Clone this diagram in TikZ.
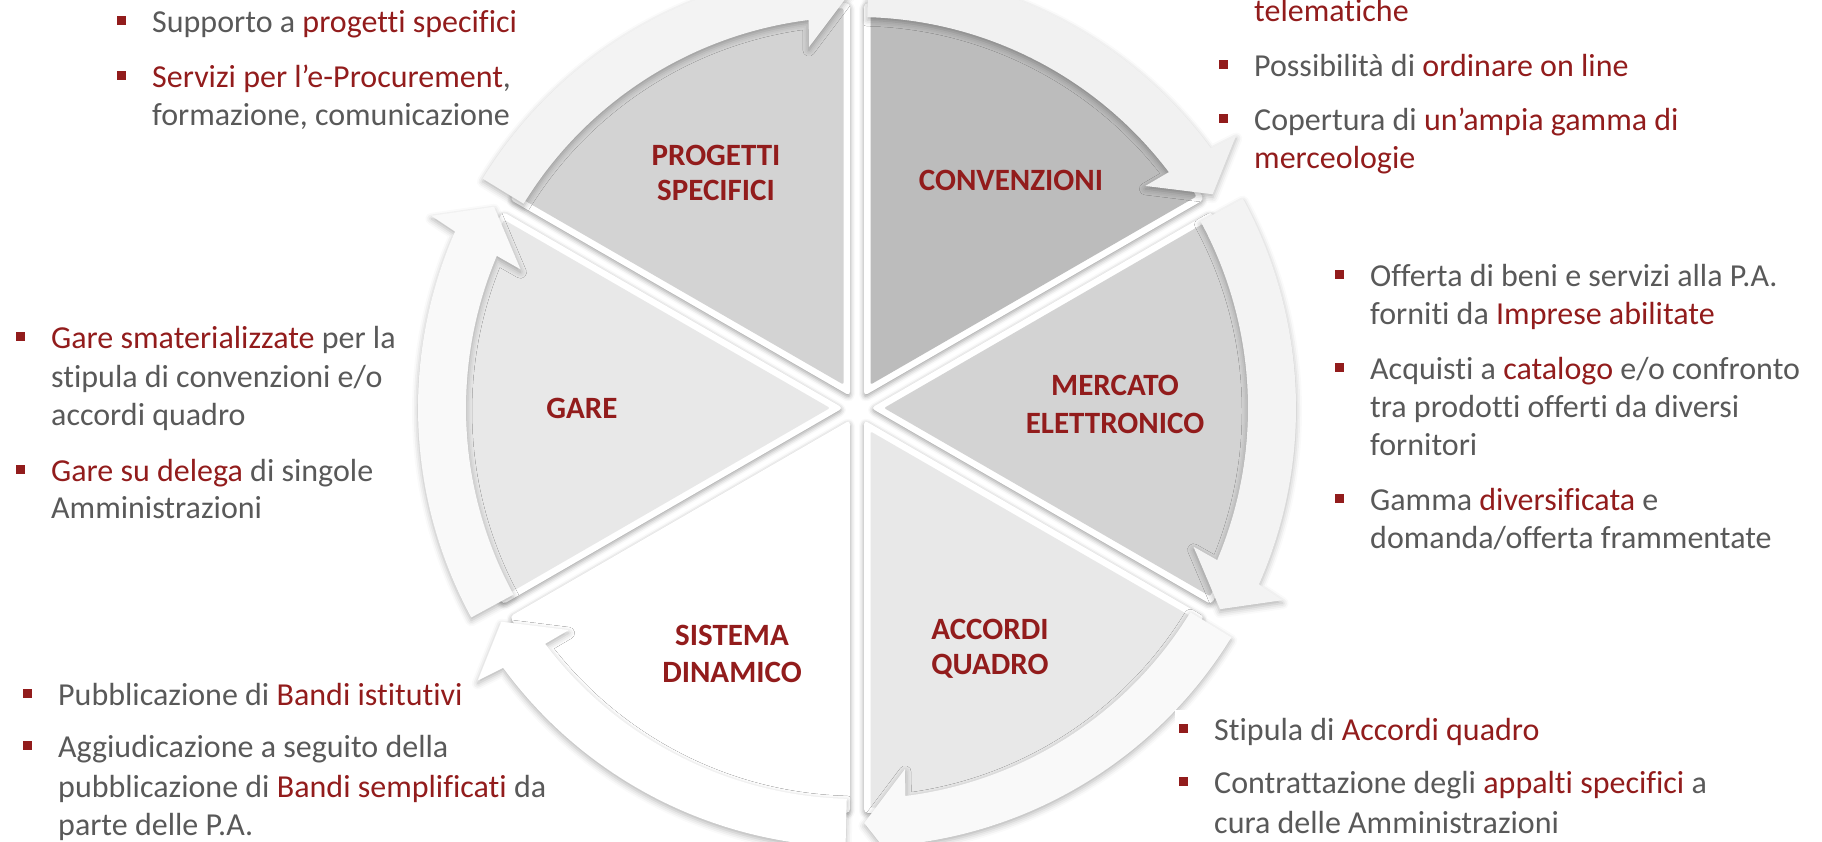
\documentclass[tikz,border=0pt]{standalone}
\usepackage{fontspec}
\setmainfont{Carlito}[Ligatures=NoCommon]
\usetikzlibrary{shadows.blur}
\definecolor{tred}{HTML}{921C1C}
\definecolor{tgray}{HTML}{595959}
\definecolor{secA}{HTML}{BCBCBC}
\definecolor{secB}{HTML}{D3D3D3}
\definecolor{secC}{HTML}{E8E8E8}
\definecolor{arA}{HTML}{F3F3F3}
\definecolor{arB}{HTML}{F1F1F1}
\definecolor{arC}{HTML}{F9F9F9}
\newcommand{\bul}{\llap{\textcolor{tred}{\rule[7pt]{9pt}{9pt}}\hspace{26pt}}}
\newcommand{\rd}[1]{\textcolor{tred}{#1}}
\begin{document}
\begin{tikzpicture}[x=1pt,y=1pt,
  body/.style={anchor=base west, inner sep=0pt, text=tgray, font=\fontsize{32}{38}\selectfont},
  ttl/.style={anchor=base, inner sep=0pt, text=tred, font=\fontsize{31}{36}\selectfont\bfseries},
  wedgeout/.style={fill=white, rounded corners=4pt, blur shadow={shadow xshift=0pt, shadow yshift=-2pt, shadow blur radius=5pt, shadow opacity=40}},
  arrowsh/.style={blur shadow={shadow xshift=0pt, shadow yshift=-3pt, shadow blur radius=6pt, shadow opacity=30}},
]
\useasboundingbox (0,0) rectangle (1822,-841);
\begin{scope}[shift={(857,-408)}]
  % pie wedges
  \foreach \a/\c in {30/secA, 90/secB, 150/secC, 210/white, 270/secC, -30/secB} {
    \pgfmathsetmacro\m{\a+30}
    \fill[wedgeout] (\m:14) -- ({\a+asin(7/405)}:405)
      arc[start angle={\a+asin(7/405)}, end angle={\a+60-asin(7/405)}, radius=405] -- cycle;
    \fill[\c, rounded corners=2pt] (\m:27) -- ({\a+asin(13.5/400)}:400)
      arc[start angle={\a+asin(13.5/400)}, end angle={\a+60-asin(13.5/400)}, radius=400] -- cycle;
  }
  % circular arrows
  \foreach \B/\c in {90/arA, 30/arB, -30/arA, -90/arC, -150/white, 150/arC} {
    \fill[\c, arrowsh] ({\B+58.5}:439)
      arc[start angle={\B+58.5}, end angle={\B+6.3}, radius=439]
      -- ({\B+5.7}:467) -- ({\B+1}:415) -- ({\B+7.6}:364) -- ({\B+7.1}:391)
      arc[start angle={\B+7.1}, end angle={\B+58.5}, radius=391] -- cycle;
  }
\end{scope}
% white text box of the lower right block
\fill[white] (1175,-710) rectangle (1822,-841);

% titles
\node[ttl] (p1) at (716,-165) {PROGETTI};
\node[ttl] (p2) at (716,-200) {SPECIFICI};
\node[ttl] (c1) at (1011,-190) {CONVENZIONI};
\node[ttl] (m1) at (1115,-395) {MERCATO};
\node[ttl] (m2) at (1115,-433) {ELETTRONICO};
\node[ttl] (a1) at (990,-639) {ACCORDI};
\node[ttl] (a2) at (990,-674) {QUADRO};
\node[ttl] (s1) at (732,-645) {SISTEMA};
\node[ttl] (s2) at (732,-682) {DINAMICO};
\node[ttl] (g1) at (582,-418) {GARE};

% block progetti
\node[body] (b1a) at (152,-32) {\bul Supporto a \rd{progetti specifici}};
\node[body] (b1b) at (152,-87) {\bul \rd{Servizi per l’e-Procurement},};
\node[body] (b1c) at (152,-125) {formazione, comunicazione};
% block convenzioni
\node[body] (b2a) at (1254,-21) {\rd{telematiche}};
\node[body] (b2b) at (1254,-76) {\bul Possibilità di \rd{ordinare on line}};
\node[body] (b2c) at (1254,-130) {\bul Copertura di \rd{un’ampia gamma di}};
\node[body] (b2d) at (1254,-168) {\rd{merceologie}};
% block mercato
\node[body] (b3a) at (1370,-286) {\bul Offerta di beni e servizi alla P.A.};
\node[body] (b3b) at (1370,-324) {forniti da \rd{Imprese abilitate}};
\node[body] (b3c) at (1370,-379) {\bul Acquisti a \rd{catalogo} e/o confronto};
\node[body] (b3d) at (1370,-417) {tra prodotti offerti da diversi};
\node[body] (b3e) at (1370,-455) {fornitori};
\node[body] (b3f) at (1370,-510) {\bul Gamma \rd{diversificata} e};
\node[body] (b3g) at (1370,-548) {domanda/offerta frammentate};
% block gare
\node[body] (b4a) at (51,-348) {\bul \rd{Gare smaterializzate} per la};
\node[body] (b4b) at (51,-387) {stipula di convenzioni e/o};
\node[body] (b4c) at (51,-425) {accordi quadro};
\node[body] (b4d) at (51,-481) {\bul \rd{Gare su delega} di singole};
\node[body] (b4e) at (51,-518) {Amministrazioni};
% block sistema dinamico
\node[body] (b5a) at (58,-705) {\bul Pubblicazione di \rd{Bandi istitutivi}};
\node[body] (b5b) at (58,-757) {\bul Aggiudicazione a seguito della};
\node[body] (b5c) at (58,-797) {pubblicazione di \rd{Bandi semplificati} da};
\node[body] (b5d) at (58,-835) {parte delle P.A.};
% block accordi quadro
\node[body] (b6a) at (1214,-740) {\bul Stipula di \rd{Accordi quadro}};
\node[body] (b6b) at (1214,-793) {\bul Contrattazione degli \rd{appalti specifici} a};
\node[body] (b6c) at (1214,-833) {cura delle Amministrazioni};
\end{tikzpicture}
\end{document}
